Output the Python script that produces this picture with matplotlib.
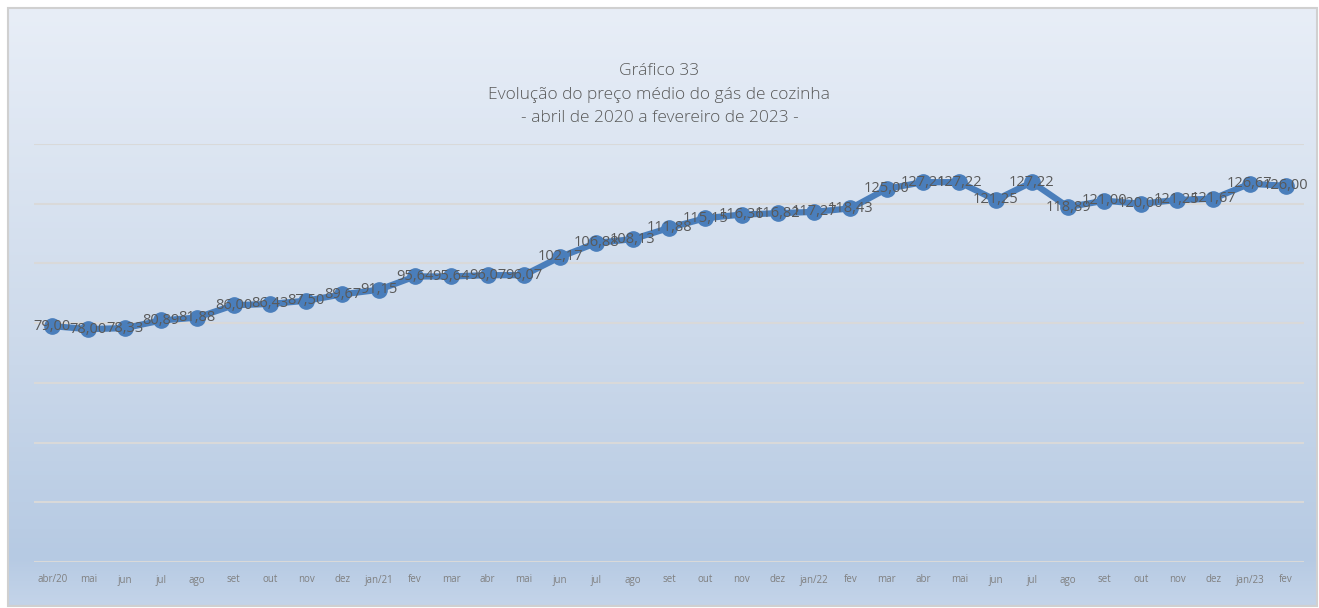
import numpy as np
import matplotlib
matplotlib.use("Agg")
import matplotlib.pyplot as plt
from matplotlib.colors import LinearSegmentedColormap
from matplotlib.patches import Rectangle

plt.rcParams['font.family'] = ['Open Sans', 'DejaVu Sans']

meses = ["abr/20", "mai", "jun", "jul", "ago", "set", "out", "nov", "dez",
         "jan/21", "fev", "mar", "abr", "mai", "jun", "jul", "ago", "set", "out", "nov", "dez",
         "jan/22", "fev", "mar", "abr", "mai", "jun", "jul", "ago", "set", "out", "nov", "dez",
         "jan/23", "fev"]
precos = [79.00, 78.00, 78.33, 80.89, 81.88, 86.00, 86.43, 87.50, 89.67,
          91.15, 95.64, 95.64, 96.07, 96.07, 102.17, 106.88, 108.13, 111.88, 115.15, 116.36, 116.82,
          117.27, 118.43, 125.00, 127.21, 127.22, 121.25, 127.22, 118.89, 121.00, 120.00, 121.25, 121.67,
          126.67, 126.00]

fig = plt.figure(figsize=(13.19, 6.08), dpi=100)
fig.patch.set_facecolor("white")

# fundo em degradê
W, H = 1319, 608
bg = fig.add_axes([8 / W, 2 / H, (W - 10) / W, (H - 10) / H], zorder=0)
cmap = LinearSegmentedColormap.from_list("fundo", [(0, "#e8eef7"), (0.55, "#cddaeb"),
                                                   (0.92, "#b6cae3"), (1, "#c4d4e9")])
grad = np.linspace(0, 1, 256).reshape(-1, 1)
bg.imshow(grad, aspect="auto", cmap=cmap, extent=[0, 1, 1, 0])
bg.set_xlim(0, 1)
bg.set_ylim(1, 0)
bg.axis("off")
fig.patches.append(Rectangle((8 / W, 2 / H), (W - 10) / W, (H - 10) / H, transform=fig.transFigure,
                             fill=False, edgecolor="#d0d0d0", linewidth=1.5, zorder=1))

ax = fig.add_axes([34 / W, 46 / H, 1270 / W, 418 / H], zorder=2)
ax.patch.set_alpha(0)
x = np.arange(len(precos))
ax.plot(x, precos, color="#4a7ebb", linewidth=4.5, marker="o", markersize=11,
        markerfacecolor="#4a7ebb", markeredgecolor="#4a7ebb", zorder=3)

for xi, v in zip(x, precos):
    ax.text(xi, v, f"{v:.2f}".replace(".", ","), ha="center", va="center",
            fontsize=10.5, color="#595959", zorder=4)

ax.set_xlim(-0.5, len(precos) - 0.5)
ax.set_ylim(0, 140)
ax.set_yticks(np.arange(0, 141, 20))
ax.yaxis.grid(True, color="#d9d9d9", linewidth=1.5)
ax.set_axisbelow(True)
ax.tick_params(axis="y", left=False, labelleft=False)
ax.set_xticks(x)
ax.set_xticklabels(meses, fontsize=7, color="#7f7f7f")
ax.tick_params(axis="x", length=0, pad=9)
for s in ax.spines.values():
    s.set_visible(False)

titulo = ["Gráfico 33", "Evolução do preço médio do gás de cozinha",
          "- abril de 2020 a fevereiro de 2023 -"]
for linha, ypix in zip(titulo, [71, 95, 118]):
    fig.text(0.5, 1 - ypix / H, linha, ha="center", va="center", fontsize=12.5,
             color="#595959", fontweight="light")

fig.savefig("out.png", dpi=100)
